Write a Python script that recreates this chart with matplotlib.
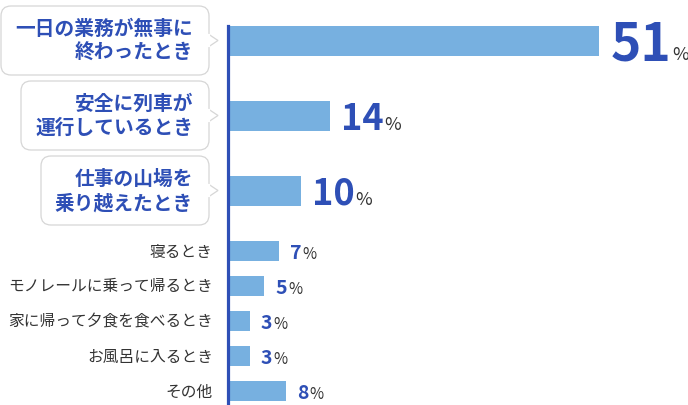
import matplotlib
matplotlib.use("Agg")
import matplotlib.pyplot as plt
from matplotlib.patches import FancyBboxPatch, Polygon

plt.rcParams["font.family"] = ["Noto Sans CJK JP", "DejaVu Sans"]

# ==============================================
# = data                                       =
# ==============================================
bubble_labels = [
    ["一日の業務が無事に", "終わったとき"],
    ["安全に列車が", "運行しているとき"],
    ["仕事の山場を", "乗り越えたとき"],
]
bubble_values = [51, 14, 10]

plain_labels = [
    "寝るとき",
    "モノレールに乗って帰るとき",
    "家に帰って夕食を食べるとき",
    "お風呂に入るとき",
    "その他",
]
plain_values = [7, 5, 3, 3, 8]

# ==============================================
# = layout (pixels of a 688x406 canvas)        =
# ==============================================
W, H = 688, 406
AXIS_X = 228
PX_PER_PCT = 7.28
BIG_TOP, BIG_STEP, BIG_H = 42, 75, 30
SMALL_TOP, SMALL_STEP, SMALL_H = 252, 35, 20
BUBBLE_LEFT = [1, 21, 41]
BUBBLE_RIGHT = 209
BUBBLE_HALF = 34.5

BLUE = "#2e4fb6"
BAR = "#77b0e0"
DARK = "#333333"
EDGE = "#d6d6d6"

big_y = [BIG_TOP + BIG_STEP * i for i in range(len(bubble_values))]
small_y = [SMALL_TOP + SMALL_STEP * i for i in range(len(plain_values))]

fig = plt.figure(figsize=(W / 100, H / 100), dpi=100)

# background axes in pixel units for bubbles and labels
bg = fig.add_axes([0, 0, 1, 1])
bg.set_xlim(0, W)
bg.set_ylim(H, 0)
bg.axis("off")

# bar axes
ax = fig.add_axes([AXIS_X / W, 0, 1 - AXIS_X / W, 1])
ax.set_xlim(0, (W - AXIS_X) / PX_PER_PCT)
ax.set_ylim(H, 0)
ax.patch.set_alpha(0)
for side in ["top", "right", "bottom"]:
    ax.spines[side].set_visible(False)
ax.spines["left"].set_color(BLUE)
ax.spines["left"].set_linewidth(2.3)
ax.spines["left"].set_bounds(big_y[0] - BIG_H / 2, H)
ax.set_xticks([])
ax.set_yticks([])

ax.barh(big_y, bubble_values, height=BIG_H, color=BAR, zorder=1)
ax.barh(small_y, plain_values, height=SMALL_H, color=BAR, zorder=1)


def value_label(y, v, num_size, pct_size):
    num = ax.annotate(str(v), xy=(v, y), xytext=(8, -0.36 * num_size),
                      textcoords="offset points", ha="left", va="baseline",
                      fontsize=num_size, fontweight="bold", color=BLUE,
                      annotation_clip=False)
    ax.annotate("%", xy=(1, y), xycoords=(num, ax.transData),
                xytext=(0.6, -0.36 * num_size), textcoords="offset points",
                ha="left", va="baseline", fontsize=pct_size, color=DARK,
                annotation_clip=False)


big_sizes = [37, 26, 26]
for y, v, s in zip(big_y, bubble_values, big_sizes):
    value_label(y, v, s, 13)
for y, v in zip(small_y, plain_values):
    value_label(y, v, 14, 11)

# speech bubbles
for i, (lines, cy) in enumerate(zip(bubble_labels, big_y)):
    cy = cy - 0.5
    x0 = BUBBLE_LEFT[i]
    box = FancyBboxPatch((x0, cy - BUBBLE_HALF), BUBBLE_RIGHT - x0, 2 * BUBBLE_HALF,
                         boxstyle="round,pad=0,rounding_size=10",
                         facecolor="white", edgecolor=EDGE, linewidth=0.9)
    bg.add_patch(box)
    tip = Polygon([(BUBBLE_RIGHT, cy - 6), (BUBBLE_RIGHT + 9, cy), (BUBBLE_RIGHT, cy + 6)],
                  closed=False, facecolor="white", edgecolor=EDGE, linewidth=0.9)
    bg.add_patch(tip)
    bg.plot([BUBBLE_RIGHT, BUBBLE_RIGHT], [cy - 5.3, cy + 5.3], color="white", lw=1.6)
    bg.text(193, cy - 12, lines[0], ha="right", va="center", fontsize=14.2,
            fontweight="bold", color=BLUE)
    bg.text(193, cy + 12, lines[1], ha="right", va="center", fontsize=14.2,
            fontweight="bold", color=BLUE)

for label, y in zip(plain_labels, small_y):
    bg.text(213, y, label, ha="right", va="center", fontsize=11.3, color=DARK)

fig.savefig("out.png", dpi=100)
